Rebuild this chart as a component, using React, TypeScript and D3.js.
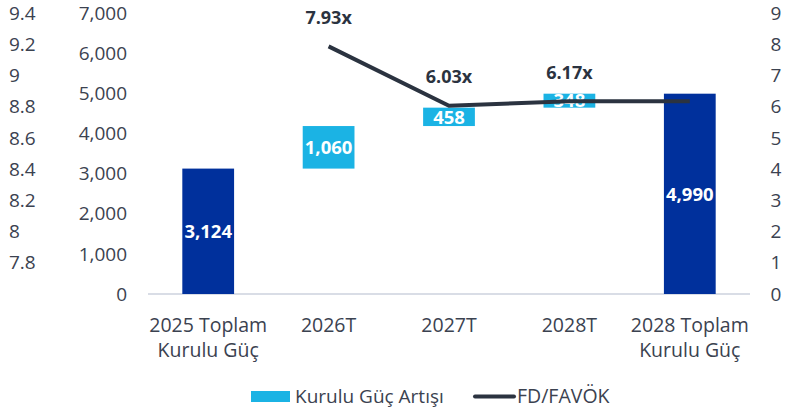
import React from "react";
import * as d3 from "d3";

const categories = ["2025 Toplam\nKurulu Güç", "2026T", "2027T", "2028T", "2028 Toplam\nKurulu Güç"];
const barKinds = ["total", "delta", "delta", "delta", "total"];
const barValues = [3124, 1060, 458, 348, 4990];
const ratioCats = ["2026T", "2027T", "2028T", "2028 Toplam\nKurulu Güç"];
const ratioValues = [7.93, 6.03, 6.17, 6.17];
const ratioLabels = ["7.93x", "6.03x", "6.17x", ""];
const leftTicks = [0, 1000, 2000, 3000, 4000, 5000, 6000, 7000];
const rightTicks = [0, 1, 2, 3, 4, 5, 6, 7, 8, 9];
const ghostTicks = [7.8, 8, 8.2, 8.4, 8.6, 8.8, 9, 9.2, 9.4];

const W = 800, H = 414;
const FONT = "'Open Sans', sans-serif";
const TXT = "#3b4250";
const DARK = "#00309c";
const LIGHT = "#1bb3e4";
const LINE = "#2b3340";

export default function App() {
  const x = d3.scaleBand<string>().domain(categories).range([148, 750]).paddingInner(0.57).paddingOuter(0.285);
  const y = d3.scaleLinear().domain([0, 7000]).range([294, 13]);
  const yr = d3.scaleLinear().domain([0, 9]).range([294, 13]);
  const yg = d3.scaleLinear().domain([7.6, 9.4]).range([294, 13]);

  let run = 0;
  const bars = barValues.map((v, i) => {
    let y0: number, y1: number;
    if (barKinds[i] === "total") { y0 = 0; y1 = v; run = v; }
    else { y0 = run; y1 = run + v; run = y1; }
    return { cat: categories[i], y0, y1, v, kind: barKinds[i] };
  });

  const cx = (c: string) => (x(c) as number) + x.bandwidth() / 2;
  const line = d3.line<number>().x((_, i) => cx(ratioCats[i])).y(d => yr(d));

  return (
    <svg width={W} height={H} style={{ position: "absolute", left: 0, top: 0, background: "#fff" }} fontFamily={FONT}>
      {ghostTicks.map(t => (
        <text key={"g" + t} x={9} y={yg(t)} dy="0.35em" fontSize={19} fill={TXT}>{d3.format("")(t)}</text>
      ))}
      {leftTicks.map(t => (
        <text key={"l" + t} x={127} y={y(t)} dy="0.35em" fontSize={19} fill={TXT} textAnchor="end">{d3.format(",")(t)}</text>
      ))}
      {rightTicks.map(t => (
        <text key={"r" + t} x={776} y={yr(t)} dy="0.35em" fontSize={19} fill={TXT} textAnchor="middle">{t}</text>
      ))}
      <line x1={148} x2={750} y1={y(0)} y2={y(0)} stroke="#d9dde6" strokeWidth={2} />
      {bars.map((b, i) => (
        <g key={"b" + i}>
          <rect x={x(b.cat)} width={x.bandwidth()} y={y(b.y1)} height={y(b.y0) - y(b.y1)} fill={b.kind === "total" ? DARK : LIGHT} />
          <text x={cx(b.cat)} y={(y(b.y0) + y(b.y1)) / 2} dy="0.36em" textAnchor="middle" fontSize={18.5} fontWeight="bold" fill="#fff">{d3.format(",")(b.v)}</text>
        </g>
      ))}
      <path d={line(ratioValues) || ""} fill="none" stroke={LINE} strokeWidth={4} />
      {ratioValues.map((v, i) => ratioLabels[i] ? (
        <text key={"rl" + i} x={cx(ratioCats[i])} y={yr(v) - 29} dy="0.35em" textAnchor="middle" fontSize={18} fontWeight="bold" fill={LINE}>{ratioLabels[i]}</text>
      ) : null)}
      {categories.map(c => c.split("\n").map((ln, j) => (
        <text key={c + j} x={cx(c)} y={325 + j * 25} dy="0.35em" textAnchor="middle" fontSize={19.5} fill={TXT}>{ln}</text>
      )))}
      <rect x={251} y={391} width={39} height={11} fill={LIGHT} />
      <text x={295} y={396.5} dy="0.35em" fontSize={19} fill={TXT}>Kurulu Güç Artışı</text>
      <line x1={475} x2={514} y1={396.5} y2={396.5} stroke={LINE} strokeWidth={4} strokeLinecap="round" />
      <text x={517} y={396.5} dy="0.35em" fontSize={19.5} fill={TXT}>FD/FAVÖK</text>
    </svg>
  );
}
